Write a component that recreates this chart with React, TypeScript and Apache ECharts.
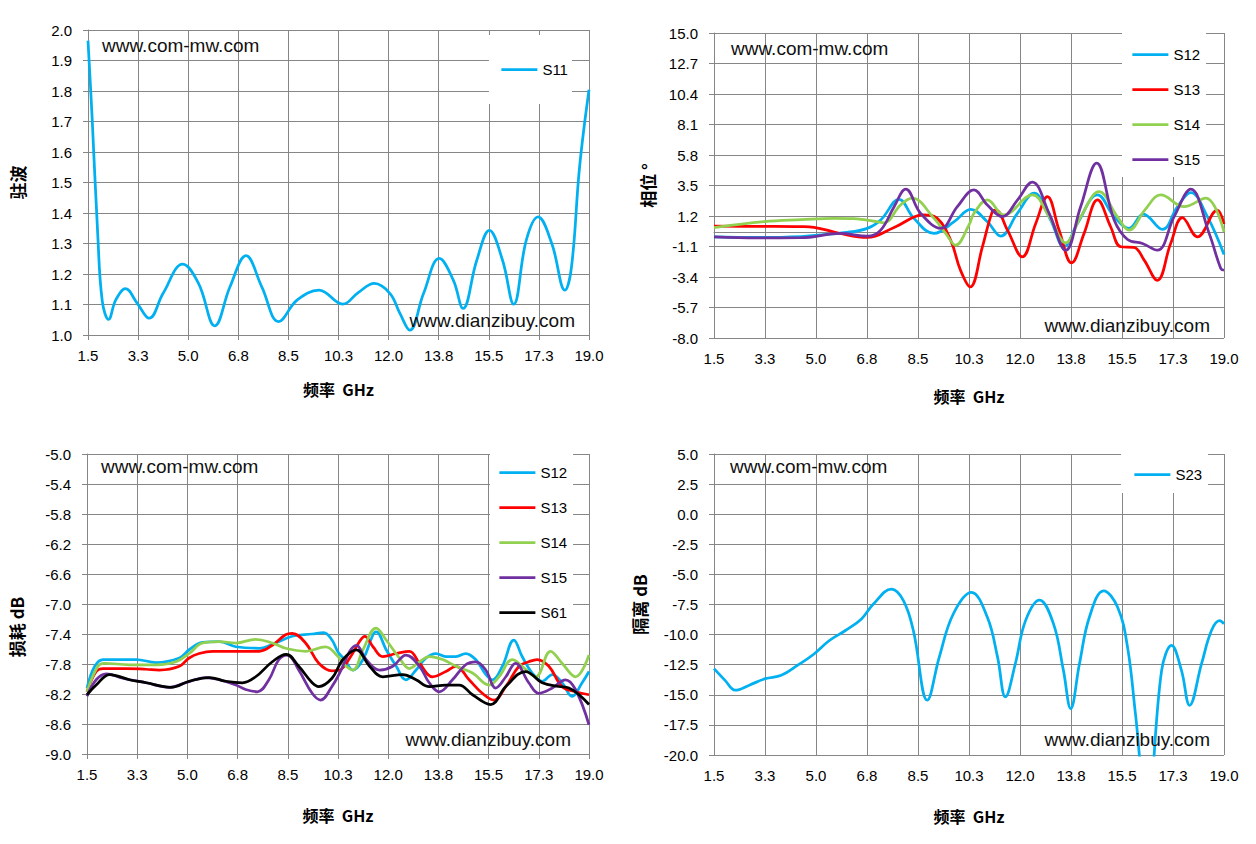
import { useEffect, useRef } from 'react';
import * as echarts from 'echarts';

// S11 VSWR (top left)
const s11Freq = [1.5, 1.64, 1.84, 2.0, 2.22, 2.47, 2.81, 3.22, 3.64, 4.12, 4.81, 5.36, 5.93, 6.46, 7.02, 7.57, 8.16, 8.81, 9.57, 10.4, 10.95, 11.5, 12.05, 12.4, 12.74, 13.22, 13.77, 14.26, 14.6, 15.08, 15.52, 15.98, 16.37, 16.81, 17.22, 17.7, 18.16, 18.39, 18.67, 19.0];
const s11Vswr = [1.965, 1.72, 1.33, 1.11, 1.051, 1.115, 1.152, 1.104, 1.055, 1.136, 1.232, 1.169, 1.03, 1.158, 1.26, 1.158, 1.044, 1.115, 1.147, 1.101, 1.14, 1.169, 1.136, 1.07, 1.016, 1.136, 1.251, 1.18, 1.087, 1.245, 1.343, 1.245, 1.101, 1.311, 1.387, 1.3, 1.147, 1.224, 1.55, 1.804];

// phase (top right)
const s12PhFreq = [1.5, 3.0, 4.5, 5.05, 5.96, 6.76, 7.22, 7.85, 8.36, 9.05, 9.74, 10.31, 10.88, 11.34, 11.91, 12.48, 13.05, 13.51, 13.97, 14.66, 15.23, 15.74, 16.23, 16.89, 17.4, 17.86, 18.43, 19.0];
const s12Phase = [-0.37, -0.42, -0.35, -0.25, -0.06, 0.27, 0.9, 2.46, 1.02, -0.11, 0.77, 1.7, 0.77, -0.32, 1.4, 2.92, 0.9, -1.12, 0.64, 2.79, 1.15, 0.27, 1.35, 0.19, 1.9, 2.97, 1.15, -1.7];
const s13PhFreq = [1.5, 3.0, 4.5, 4.93, 5.8, 6.76, 7.68, 8.7, 9.16, 9.62, 9.96, 10.29, 10.71, 11.05, 11.17, 11.57, 12.08, 12.54, 12.94, 13.34, 13.77, 14.2, 14.66, 15.11, 15.46, 15.91, 16.26, 16.71, 17.17, 17.57, 18.09, 18.77, 19.0];
const s13Phase = [0.44, 0.42, 0.4, 0.35, -0.1, -0.42, 0.34, 1.28, 1.02, -0.62, -2.9, -4.15, -1.12, 1.53, 1.65, 0.14, -1.88, 0.64, 2.66, 0.14, -2.34, -0.11, 2.41, 0.39, -1.12, -1.17, -2.13, -3.65, -0.87, 1.07, -0.37, 1.65, 0.6];
const s14PhFreq = [1.5, 3.22, 4.5, 5.62, 6.3, 6.88, 7.33, 7.9, 8.3, 9.05, 9.45, 9.79, 10.25, 10.42, 10.88, 11.45, 12.42, 13.0, 13.57, 14.1, 14.71, 15.34, 15.74, 16.3, 16.83, 17.63, 18.37, 19.0];
const s14Phase = [0.32, 0.77, 0.92, 1.02, 1.0, 0.85, 0.69, 2.03, 2.54, 1.02, -0.11, -1.0, 0.52, 1.4, 2.41, 1.28, 2.79, 1.15, -0.82, 1.2, 3.04, 1.15, 0.14, 1.7, 2.79, 1.9, 2.54, 0.0];
const s15PhFreq = [1.5, 3.0, 4.47, 5.85, 6.76, 7.22, 7.68, 8.08, 8.59, 9.28, 9.85, 10.42, 10.88, 11.4, 11.91, 12.42, 13.0, 13.57, 14.08, 14.63, 15.23, 15.69, 16.2, 16.71, 17.29, 17.86, 18.49, 18.89, 19.0];
const s15Phase = [-0.37, -0.45, -0.44, -0.11, -0.32, 0.14, 1.9, 3.22, 1.4, 0.27, 1.9, 3.17, 2.03, 1.15, 2.4, 3.75, 1.4, -1.38, 1.9, 5.19, 0.9, -0.57, -0.87, -1.38, 1.15, 3.22, -0.11, -2.76, -2.89];

// insertion loss (bottom left)
const s12LossFreq = [1.5, 1.77, 2.06, 3.21, 3.91, 4.72, 5.06, 5.53, 6.11, 6.69, 7.5, 8.07, 8.65, 9.35, 9.75, 10.04, 10.25, 10.48, 10.77, 11.12, 11.47, 11.58, 11.93, 12.28, 12.62, 12.97, 13.32, 13.66, 14.01, 14.36, 14.7, 15.05, 15.4, 15.63, 15.98, 16.38, 16.67, 17.02, 17.37, 17.72, 18.06, 18.41, 18.76, 19.0];
const s12Loss = [-8.12, -7.83, -7.74, -7.74, -7.78, -7.72, -7.61, -7.51, -7.5, -7.57, -7.59, -7.52, -7.43, -7.4, -7.38, -7.48, -7.64, -7.74, -7.88, -7.74, -7.41, -7.37, -7.61, -7.83, -8.01, -7.88, -7.72, -7.66, -7.7, -7.7, -7.66, -7.74, -7.94, -8.01, -7.83, -7.48, -7.7, -7.92, -8.03, -7.94, -8.05, -8.23, -8.05, -7.9];
const s13LossFreq = [1.5, 1.82, 2.06, 2.87, 3.56, 4.02, 4.72, 5.06, 5.41, 5.88, 6.8, 7.5, 7.96, 8.42, 8.65, 9.12, 9.58, 10.04, 10.31, 10.66, 11.0, 11.18, 11.47, 11.81, 12.28, 12.74, 13.09, 13.55, 14.01, 14.36, 14.82, 15.28, 15.69, 16.1, 16.56, 16.9, 17.19, 17.6, 18.06, 18.53, 19.0];
const s13Loss = [-8.17, -7.9, -7.86, -7.86, -7.87, -7.88, -7.83, -7.72, -7.66, -7.63, -7.63, -7.63, -7.55, -7.41, -7.39, -7.52, -7.79, -7.89, -7.88, -7.72, -7.5, -7.43, -7.57, -7.7, -7.66, -7.63, -7.79, -7.97, -7.9, -7.83, -8.01, -8.19, -8.28, -8.1, -7.83, -7.77, -7.74, -7.83, -8.1, -8.17, -8.21];
const s14LossFreq = [1.5, 1.88, 2.11, 2.98, 3.91, 4.6, 5.06, 5.53, 6.11, 6.69, 7.38, 7.96, 8.42, 9.12, 9.81, 10.25, 10.42, 10.77, 11.12, 11.58, 11.93, 12.39, 12.74, 13.09, 13.43, 13.9, 14.36, 14.94, 15.52, 15.86, 16.33, 16.67, 17.14, 17.66, 18.06, 18.53, 19.0];
const s14Loss = [-8.17, -7.83, -7.79, -7.81, -7.81, -7.77, -7.66, -7.52, -7.5, -7.52, -7.47, -7.52, -7.59, -7.63, -7.57, -7.7, -7.79, -7.88, -7.61, -7.32, -7.48, -7.72, -7.86, -7.77, -7.7, -7.74, -7.83, -7.92, -8.08, -7.97, -7.74, -7.83, -7.97, -7.63, -7.79, -7.97, -7.68];
const s15LossFreq = [1.5, 1.82, 2.17, 2.75, 3.56, 4.37, 4.95, 5.64, 6.11, 6.69, 7.03, 7.44, 7.84, 8.19, 8.48, 8.88, 9.35, 9.64, 10.04, 10.31, 10.66, 10.89, 11.23, 11.7, 12.16, 12.62, 13.09, 13.43, 13.78, 14.24, 14.7, 15.05, 15.4, 15.75, 16.1, 16.44, 16.9, 17.25, 17.72, 18.18, 18.53, 19.0];
const s15Loss = [-8.23, -8.01, -7.93, -7.99, -8.05, -8.11, -8.05, -7.98, -8.01, -8.08, -8.14, -8.17, -8.01, -7.74, -7.68, -7.88, -8.19, -8.28, -8.1, -7.92, -7.63, -7.55, -7.74, -7.88, -7.83, -7.68, -7.83, -8.05, -8.17, -8.01, -7.81, -7.77, -7.88, -8.12, -7.97, -7.79, -8.05, -8.19, -8.12, -8.01, -8.14, -8.61];
const s61LossFreq = [1.5, 1.82, 2.29, 2.98, 3.56, 4.43, 5.06, 5.76, 6.34, 6.92, 7.38, 7.96, 8.44, 8.88, 9.35, 9.58, 10.04, 10.42, 10.89, 11.35, 11.81, 12.51, 12.97, 13.43, 14.01, 14.47, 14.94, 15.57, 16.1, 16.79, 17.37, 17.95, 18.3, 19.0];
const s61Loss = [-8.21, -8.08, -7.94, -8.01, -8.05, -8.11, -8.03, -7.98, -8.03, -8.05, -7.97, -7.77, -7.67, -7.83, -8.05, -8.1, -7.99, -7.74, -7.61, -7.83, -7.97, -7.94, -8.01, -8.1, -8.08, -8.08, -8.21, -8.34, -8.1, -7.9, -8.05, -8.1, -8.12, -8.34];

// isolation (bottom right)
const s23Freq = [1.5, 1.88, 2.23, 2.71, 3.26, 3.81, 4.36, 4.91, 5.46, 6.01, 6.56, 6.97, 7.59, 8.0, 8.34, 8.82, 9.23, 9.71, 10.33, 10.88, 11.23, 11.5, 11.84, 12.19, 12.67, 13.15, 13.49, 13.74, 14.04, 14.38, 14.87, 15.35, 15.69, 15.96, 16.36, 16.86, 17.2, 17.54, 17.82, 18.23, 18.57, 18.85, 19.0];
const s23Iso = [-12.83, -13.8, -14.62, -14.2, -13.66, -13.38, -12.56, -11.65, -10.49, -9.66, -8.7, -7.46, -6.22, -7.18, -9.66, -15.45, -11.87, -8.29, -6.49, -8.56, -11.87, -15.18, -12.42, -8.84, -7.13, -9.11, -12.97, -16.14, -12.42, -8.56, -6.36, -7.73, -11.04, -16.55, -25, -12.97, -10.9, -12.97, -15.87, -12.42, -9.66, -8.84, -9.11];

const CYAN = '#00b0f0';
const RED = '#ff0000';
const GREEN = '#92d050';
const PURPLE = '#7030a0';
const BLACK = '#000000';
const GRID = '#868686';
const FONT = "'Liberation Sans', Arial, sans-serif";
const CJK = "'Noto Sans CJK SC', sans-serif";

const pairs = (xs: number[], ys: number[]) => xs.map((x, i) => [x, ys[i]]);

const nameStyle = { fontFamily: CJK, fontWeight: 'bold' as const, fontSize: 16, color: '#000' };

const xAxis = (gridIndex: number, nameGap: number) => ({
  type: 'value',
  gridIndex,
  min: 1.5,
  max: 19,
  interval: 1.75,
  name: '频率  GHz',
  nameLocation: 'middle',
  nameGap,
  nameTextStyle: nameStyle,
  axisLine: { show: true, lineStyle: { color: GRID, width: 1 } },
  axisTick: { show: true, length: 5, lineStyle: { color: GRID } },
  axisLabel: {
    formatter: (v: number) => v.toFixed(1),
    margin: 13,
    color: '#000',
    fontSize: 15,
    fontFamily: FONT,
    showMinLabel: true,
    showMaxLabel: true,
  },
  splitLine: { show: true, lineStyle: { color: GRID, width: 1 } },
});

const yAxis = (gridIndex: number, name: string, min: number, max: number, interval: number, nameGap: number, namePadding?: number[]) => ({
  type: 'value',
  gridIndex,
  min,
  max,
  interval,
  name,
  nameLocation: 'middle',
  nameGap,
  nameTextStyle: { ...nameStyle, fontSize: 17, padding: namePadding },
  axisLine: { show: true, lineStyle: { color: GRID, width: 1 } },
  axisTick: { show: true, length: 5, lineStyle: { color: GRID } },
  axisLabel: {
    formatter: (v: number) => v.toFixed(1),
    margin: 16,
    color: '#000',
    fontSize: 15,
    fontFamily: FONT,
    showMinLabel: true,
    showMaxLabel: true,
  },
  splitLine: { show: true, lineStyle: { color: GRID, width: 1 } },
});

// legend shows a plain line, like the spreadsheet's
const legend = (names: string[], left: number, top: number, padding: number[]) => ({
  orient: 'vertical',
  left,
  top,
  data: names,
  padding,
  itemWidth: 36,
  itemHeight: 14,
  itemGap: 20,
  itemStyle: { opacity: 0 },
  lineStyle: { width: 2.75 },
  backgroundColor: '#fff',
  selectedMode: false,
  textStyle: { fontSize: 15, color: '#000', fontFamily: FONT },
});

const line = (name: string, color: string, idx: number, data: number[][]) => ({
  name,
  type: 'line',
  xAxisIndex: idx,
  yAxisIndex: idx,
  data,
  symbol: 'none',
  showSymbol: false,
  smooth: 0.4,
  lineStyle: { color, width: 2.75 },
  itemStyle: { color },
});

const mark = (text: string, x: number, y: number, align: string) => ({
  type: 'text',
  x,
  y,
  z: 10,
  style: {
    text,
    font: `19px ${FONT}`,
    fill: '#111',
    align,
    textAlign: align,
    verticalAlign: 'middle',
    textVerticalAlign: 'middle',
  },
});

const App = () => {
  const chartRef = useRef<HTMLDivElement>(null);

  useEffect(() => {
    if (!chartRef.current) return;
    const chart = echarts.init(chartRef.current, undefined, { renderer: 'svg' });

    chart.setOption({
      animation: false,
      backgroundColor: '#fff',
      grid: [
        { left: 88, top: 30, width: 501, height: 305 },
        { left: 714, top: 33, width: 510, height: 305 },
        { left: 87, top: 454, width: 502, height: 300 },
        { left: 714, top: 454, width: 510, height: 301 },
      ],
      xAxis: [xAxis(0, 46), xAxis(1, 50), xAxis(2, 53), xAxis(3, 53)],
      yAxis: [
        yAxis(0, '驻波', 1, 2, 0.1, 62),
        yAxis(1, '相位 °', -8, 15, 2.3, 58),
        yAxis(2, '损耗 dB', -9, -5, 0.4, 62, [0, 46, 0, 0]),
        yAxis(3, '隔离 dB', -20, 5, 2.5, 66),
      ],
      legend: [
        legend(['S11'], 489, 35, [27, 4, 27, 11]),
        legend(['S12', 'S13', 'S14', 'S15'], 1122, 33, [14, 6, 10, 9]),
        legend(['S12', 'S13', 'S14', 'S15', 'S61'], 490, 454, [11, 6, 10, 8]),
        legend(['S23'], 1121, 454, [13, 6, 11, 12]),
      ],
      graphic: [
        mark('www.com-mw.com', 102, 45, 'left'),
        mark('www.dianzibuy.com', 575, 320, 'right'),
        mark('www.com-mw.com', 731, 48, 'left'),
        mark('www.dianzibuy.com', 1210, 325, 'right'),
        mark('www.com-mw.com', 101, 466, 'left'),
        mark('www.dianzibuy.com', 571, 739, 'right'),
        mark('www.com-mw.com', 730, 466, 'left'),
        mark('www.dianzibuy.com', 1210, 739, 'right'),
      ],
      series: [
        line('S11', CYAN, 0, pairs(s11Freq, s11Vswr)),
        line('S12', CYAN, 1, pairs(s12PhFreq, s12Phase)),
        line('S13', RED, 1, pairs(s13PhFreq, s13Phase)),
        line('S14', GREEN, 1, pairs(s14PhFreq, s14Phase)),
        line('S15', PURPLE, 1, pairs(s15PhFreq, s15Phase)),
        line('S12', CYAN, 2, pairs(s12LossFreq, s12Loss)),
        line('S13', RED, 2, pairs(s13LossFreq, s13Loss)),
        line('S14', GREEN, 2, pairs(s14LossFreq, s14Loss)),
        line('S15', PURPLE, 2, pairs(s15LossFreq, s15Loss)),
        line('S61', BLACK, 2, pairs(s61LossFreq, s61Loss)),
        line('S23', CYAN, 3, pairs(s23Freq, s23Iso)),
      ],
    });

    return () => {
      chart.dispose();
    };
  }, []);

  return (
    <div
      ref={chartRef}
      style={{ position: 'absolute', left: 0, top: 0, width: '1256px', height: '844px' }}
    />
  );
};

export default App;
